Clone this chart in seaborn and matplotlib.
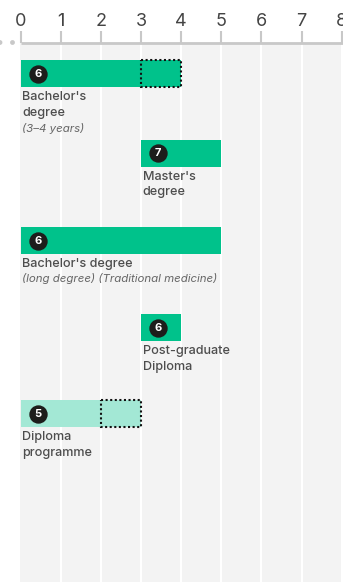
import numpy as np
import pandas as pd
import matplotlib.pyplot as plt
import seaborn as sns

sns.set_theme(style="white")
plt.rcParams['font.family'] = ['Inter', 'DejaVu Sans']

# данные
programmes = ["Bachelor's\ndegree", "Master's\ndegree", "Bachelor's degree", "Post-graduate\nDiploma", "Diploma\nprogramme"]
notes = ["(3–4 years)", "", "(long degree) (Traditional medicine)", "", ""]
start_year = [0, 3, 0, 3, 0]
duration = [3, 2, 5, 1, 2]
optional_years = [1, 0, 0, 0, 1]
levels = [6, 7, 6, 6, 5]
bar_colors = ["#00c28b", "#00c28b", "#00c28b", "#00c28b", "#a3e8d5"]
year_ticks = [0, 1, 2, 3, 4, 5, 6, 7, 8]

# вертикальная раскладка, y в пикселях картинки
row_y = [73.5, 153, 240.5, 327.5, 413.5]
bar_h = 27

df = pd.DataFrame({
    'programme': programmes,
    'start': start_year,
    'duration': duration,
    'optional': optional_years,
    'level': levels,
    'y': row_y,
    'color': bar_colors,
})

fig = plt.figure(figsize=(3.43, 5.82), dpi=100)
ax = fig.add_axes([0, 0, 1, 1])
px = 40.15

# фон и сетка
ax.axvspan(-0.5 / px, (343 - 20.5) / px, ymin=0, ymax=1 - 43 / 582, color="#f3f3f3", lw=0, zorder=0)
for t in year_ticks[1:]:
    ax.plot([t, t], [43, 582], color="white", lw=1.5, zorder=1, solid_capstyle='butt')

# бары, по одному, у каждого свой left
for i, row in df.iterrows():
    sns.barplot(data=df.iloc[[i]], x='duration', y='y', orient='y', native_scale=True, left=row['start'],
                color=row['color'], width=bar_h, saturation=1, linewidth=0, ax=ax, zorder=2)

# необязательные годы пунктиром, заливка как у бара
opt = df[df['optional'] > 0]
ax.barh(opt['y'], opt['optional'], left=opt['start'] + opt['duration'], height=bar_h,
        color=opt['color'], edgecolor="#111111", linestyle=(0, (1, 1.2)), linewidth=1.5, zorder=3)

# кружки с уровнем
ax.scatter(df['start'] + 0.43, df['y'], s=175, color="#1d1d1b", linewidth=0, zorder=4)
for i, row in df.iterrows():
    ax.text(row['start'] + 0.43, row['y'] + 0.3, str(row['level']), color="white", fontsize=8,
            fontweight='bold', ha='center', va='center', zorder=5)

# подписи
for i, row in df.iterrows():
    n_lines = row['programme'].count("\n") + 1
    top = row['y'] + bar_h / 2 + 4
    ax.text(row['start'] + 0.04, top, row['programme'], color="#4d4d4d", fontsize=9.1,
            fontweight='medium', ha='left', va='top', linespacing=1.42)
    if notes[i]:
        ax.text(row['start'] + 0.04, top + 16.5 * n_lines - 1.5, notes[i], color="#666666", fontsize=8.25,
                style='italic', ha='left', va='top')

# ось сверху
ax.plot([0, (343 - 20.5) / px], [42.5, 42.5], color="#c8c8c8", lw=2, zorder=6, solid_capstyle='butt')
for t in year_ticks:
    ax.plot([t, t], [31, 42.5], color="#c8c8c8", lw=1.5, zorder=6, solid_capstyle='butt')
    ax.text(t, 21, str(t), color="#444444", fontsize=13, ha='center', va='center')

ax.scatter([-8 / px, -20.5 / px], [42.5, 42.5], s=[12, 12], color="#c8c8c8", linewidth=0, zorder=6)

ax.set_xlim(-20.5 / px, (343 - 20.5) / px)
ax.set_ylim(582, 0)
ax.axis('off')

fig.savefig("out.png", dpi=100)
